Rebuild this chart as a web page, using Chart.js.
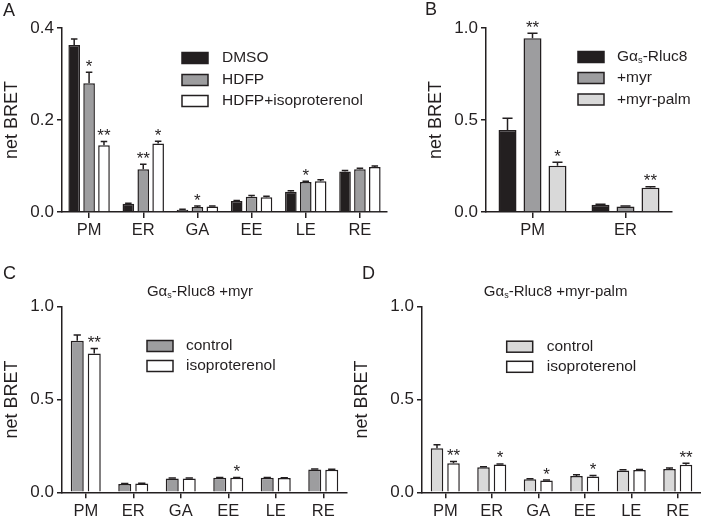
<!DOCTYPE html>
<html>
<head>
<meta charset="utf-8">
<script src="https://cdn.jsdelivr.net/npm/chart.js@4.4.1/dist/chart.umd.min.js"></script>
<style>
body { margin: 0; background: #fff; }
#fig { position: relative; width: 701px; height: 522px; overflow: hidden; background: #fff; }
#fig canvas { position: absolute; }
</style>
</head>
<body>
<div id="fig">
  <canvas id="panelA" width="400" height="260" style="left:0;top:0;width:400px;height:260px"></canvas>
  <canvas id="panelB" width="301" height="260" style="left:400px;top:0;width:301px;height:260px"></canvas>
  <canvas id="panelC" width="350" height="262" style="left:0;top:260px;width:350px;height:262px"></canvas>
  <canvas id="panelD" width="351" height="262" style="left:350px;top:260px;width:351px;height:262px"></canvas>
</div>
<script>
// categories
const compartments = ['PM', 'ER', 'GA', 'EE', 'LE', 'RE'];
const compartmentsB = ['PM', 'ER'];

// A - HDFP treatment
const dmso = [0.363, 0.018, 0.005, 0.024, 0.044, 0.088];
const dmsoErr = [0.013, 0.001, 0.001, 0.001, 0.002, 0.002];
const hdfp = [0.280, 0.093, 0.011, 0.033, 0.065, 0.093];
const hdfpErr = [0.024, 0.011, 0.002, 0.003, 0.002, 0.002];
const hdfpIso = [0.145, 0.149, 0.012, 0.032, 0.067, 0.098];
const hdfpIsoErr = [0.008, 0.005, 0.001, 0.002, 0.003, 0.002];
const hdfpStars = ['*', '**', '*', '', '*', ''];
const hdfpIsoStars = ['**', '*', '', '', '', ''];

// B - constructs
const wt = [0.446, 0.040];
const wtErr = [0.063, 0.002];
const myr = [0.944, 0.030];
const myrErr = [0.027, 0.002];
const myrPalm = [0.252, 0.132];
const myrPalmErr = [0.018, 0.005];
const myrStars = ['**', ''];
const myrPalmStars = ['*', '**'];

// C - +myr, isoproterenol
const myrCtrl = [0.816, 0.045, 0.075, 0.078, 0.078, 0.123];
const myrCtrlErr = [0.031, 0.002, 0.002, 0.002, 0.002, 0.003];
const myrIso = [0.748, 0.047, 0.075, 0.078, 0.077, 0.122];
const myrIsoErr = [0.027, 0.002, 0.002, 0.002, 0.002, 0.002];
const myrIsoStars = ['**', '', '', '*', '', ''];

// D - +myr-palm, isoproterenol
const palmCtrl = [0.238, 0.135, 0.070, 0.088, 0.117, 0.125];
const palmCtrlErr = [0.018, 0.003, 0.003, 0.007, 0.004, 0.006];
const palmIso = [0.157, 0.150, 0.063, 0.085, 0.120, 0.148];
const palmIsoErr = [0.009, 0.003, 0.003, 0.005, 0.003, 0.009];
const palmIsoStars = ['**', '*', '*', '*', '', '**'];

const ink = '#231f20';
const black = '#231f20';
const gray = '#9d9d9f';
const light = '#d9d9d9';
const white = '#ffffff';
const family = '"Liberation Sans", Arial, Helvetica, sans-serif';

Chart.defaults.font.family = family;
Chart.defaults.color = ink;

// text with "_x" meaning subscript x
function richWidth(ctx, text, size) {
  const parts = text.split('_');
  ctx.font = size + 'px ' + family;
  let w = ctx.measureText(parts[0]).width;
  for (let i = 1; i < parts.length; i++) {
    ctx.font = (size * 0.6) + 'px ' + family;
    w += ctx.measureText(parts[i][0]).width;
    ctx.font = size + 'px ' + family;
    w += ctx.measureText(parts[i].slice(1)).width;
  }
  return w;
}

function richText(ctx, text, x, y, size) {
  const parts = text.split('_');
  ctx.textAlign = 'left';
  ctx.textBaseline = 'middle';
  ctx.font = size + 'px ' + family;
  ctx.fillText(parts[0], x, y);
  x += ctx.measureText(parts[0]).width;
  for (let i = 1; i < parts.length; i++) {
    ctx.font = (size * 0.6) + 'px ' + family;
    ctx.fillText(parts[i][0], x, y + size * 0.25);
    x += ctx.measureText(parts[i][0]).width;
    ctx.font = size + 'px ' + family;
    ctx.fillText(parts[i].slice(1), x, y);
    x += ctx.measureText(parts[i].slice(1)).width;
  }
}

const panelPlugin = {
  id: 'panel',
  afterDatasetsDraw(chart, args, opts) {
    const ctx = chart.ctx;
    const y = chart.scales.y;
    ctx.save();
    chart.data.datasets.forEach((ds, i) => {
      const meta = chart.getDatasetMeta(i);
      meta.data.forEach((bar, j) => {
        const top = y.getPixelForValue(ds.data[j] + ds.errors[j]);
        const cap = bar.width * 0.28;
        ctx.strokeStyle = ink;
        ctx.lineWidth = 1.5;
        ctx.beginPath();
        ctx.moveTo(bar.x, bar.y);
        ctx.lineTo(bar.x, top);
        ctx.moveTo(bar.x - cap, top);
        ctx.lineTo(bar.x + cap, top);
        ctx.stroke();
        const s = ds.stars ? ds.stars[j] : '';
        if (s) {
          ctx.fillStyle = ink;
          ctx.font = '17px ' + family;
          ctx.textAlign = 'center';
          ctx.textBaseline = 'alphabetic';
          ctx.fillText(s, bar.x, top - 0.5);
        }
      });
    });
    ctx.restore();
  },
  afterDraw(chart, args, opts) {
    const ctx = chart.ctx;
    ctx.save();
    ctx.fillStyle = ink;
    // panel letter
    ctx.font = '18px ' + family;
    ctx.textAlign = 'left';
    ctx.textBaseline = 'middle';
    ctx.fillText(opts.letter[0], opts.letter[1], opts.letter[2]);
    // title
    if (opts.title) {
      const w = richWidth(ctx, opts.title[0], 15);
      richText(ctx, opts.title[0], opts.title[1] - w / 2, opts.title[2], 15);
    }
    // legend
    const lg = opts.legend;
    chart.data.datasets.forEach((ds, i) => {
      const cy = lg.ys[i];
      ctx.fillStyle = ds.backgroundColor;
      ctx.fillRect(lg.x, cy - 5.5, 26, 11);
      ctx.strokeStyle = ink;
      ctx.lineWidth = 1.5;
      ctx.strokeRect(lg.x, cy - 5.5, 26, 11);
      ctx.fillStyle = ink;
      richText(ctx, ds.label, lg.textX, cy, 15.5);
    });
    ctx.restore();
  }
};

function makePanel(id, labels, datasets, p) {
  return new Chart(document.getElementById(id), {
    type: 'bar',
    data: { labels: labels, datasets: datasets },
    plugins: [panelPlugin],
    options: {
      responsive: false,
      animation: false,
      datasets: {
        bar: {
          borderColor: ink,
          borderWidth: 1.5,
          barPercentage: p.barPct,
          categoryPercentage: p.catPct
        }
      },
      layout: { autoPadding: false, padding: { top: p.top, right: p.right, bottom: 0, left: 0 } },
      plugins: {
        legend: { display: false },
        tooltip: { enabled: false },
        panel: { letter: p.letter, title: p.title, legend: p.legend }
      },
      scales: {
        x: {
          grid: { offset: false, drawOnChartArea: false, tickLength: 6, color: ink, lineWidth: 1.5 },
          border: { display: true, color: ink, width: 1.5 },
          ticks: { font: { size: 16.5 }, color: ink, padding: 3 },
          afterFit: s => { s.height = p.xH; }
        },
        y: {
          min: 0,
          max: p.max,
          grid: { drawOnChartArea: false, tickLength: 5, color: ink, lineWidth: 1.5 },
          border: { display: true, color: ink, width: 1.5 },
          ticks: { stepSize: p.step, font: { size: 17 }, color: ink, padding: 3, callback: v => v.toFixed(1) },
          title: { display: true, text: 'net BRET', font: { size: 18 }, color: ink, padding: { top: p.titlePad, bottom: 0 } },
          afterFit: s => { s.width = p.yW; }
        }
      }
    }
  });
}

makePanel('panelA', compartments, [
  { label: 'DMSO', data: dmso, errors: dmsoErr, backgroundColor: black },
  { label: 'HDFP', data: hdfp, errors: hdfpErr, stars: hdfpStars, backgroundColor: gray },
  { label: 'HDFP+isoproterenol', data: hdfpIso, errors: hdfpIsoErr, stars: hdfpIsoStars, backgroundColor: white }
], {
  max: 0.4, step: 0.2, top: 28, right: 13, xH: 48, yW: 62, titlePad: 1.7,
  barPct: 0.78, catPct: 0.825,
  letter: ['A', 3, 11],
  legend: { x: 182, textX: 222, ys: [58, 80, 101] }
});

makePanel('panelB', compartmentsB, [
  { label: 'Gα_s-Rluc8', data: wt, errors: wtErr, backgroundColor: black },
  { label: '+myr', data: myr, errors: myrErr, stars: myrStars, backgroundColor: gray },
  { label: '+myr-palm', data: myrPalm, errors: myrPalmErr, stars: myrPalmStars, backgroundColor: light }
], {
  max: 1.0, step: 0.5, top: 28, right: 29, xH: 48, yW: 86, titlePad: 25.2,
  barPct: 0.72, catPct: 0.806,
  letter: ['B', 25, 10],
  legend: { x: 178, textX: 217, ys: [57, 78, 99.5] }
});

makePanel('panelC', compartments, [
  { label: 'control', data: myrCtrl, errors: myrCtrlErr, backgroundColor: gray },
  { label: 'isoproterenol', data: myrIso, errors: myrIsoErr, stars: myrIsoStars, backgroundColor: white }
], {
  max: 1.0, step: 0.5, top: 46.7, right: 3, xH: 29.7, yW: 62, titlePad: 1.7,
  barPct: 0.765, catPct: 0.716,
  letter: ['C', 3, 14],
  title: ['Gα_s-Rluc8 +myr', 200, 31.5],
  legend: { x: 147, textX: 186, ys: [86, 106] }
});

makePanel('panelD', compartments, [
  { label: 'control', data: palmCtrl, errors: palmCtrlErr, backgroundColor: light },
  { label: 'isoproterenol', data: palmIso, errors: palmIsoErr, stars: palmIsoStars, backgroundColor: white }
], {
  max: 1.0, step: 0.5, top: 46.7, right: 0, xH: 29.7, yW: 72, titlePad: 1.7,
  barPct: 0.76, catPct: 0.71,
  letter: ['D', 12, 14],
  title: ['Gα_s-Rluc8 +myr-palm', 205.6, 31.5],
  legend: { x: 156.7, textX: 196.7, ys: [86.7, 106.8] }
});
</script>
</body>
</html>
